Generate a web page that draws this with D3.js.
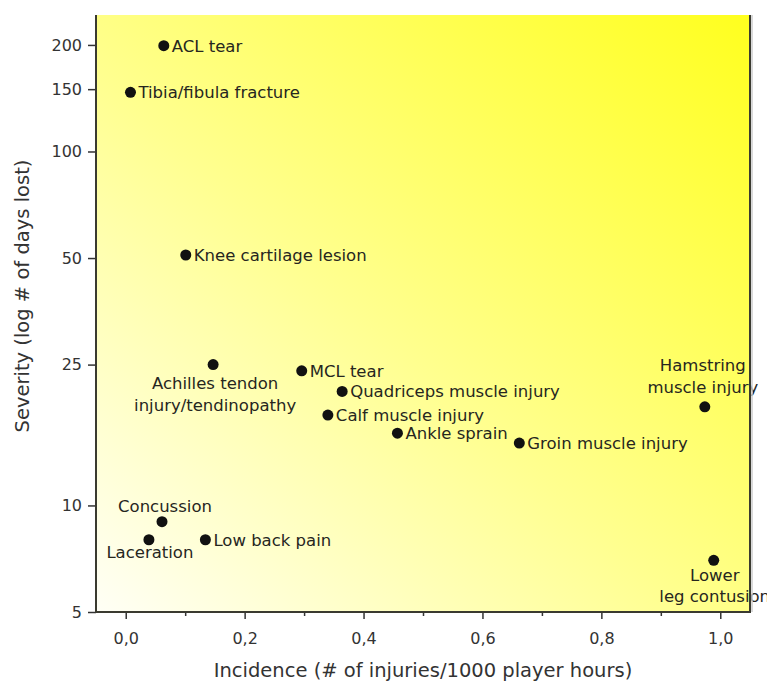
<!DOCTYPE html>
<html>

<head>
    <meta charset="utf-8">
    <title>Injury severity vs incidence</title>
    <style>
        body { margin: 0; background: #fff; }
        text { font-family: "DejaVu Sans", sans-serif; }
    </style>
</head>

<body>
    <svg></svg>
    <script src="https://d3js.org/d3.v7.min.js"></script>

    <script>
        // injuries
        var injuries = ['ACL tear', 'Tibia/fibula fracture', 'Knee cartilage lesion', 'Achilles tendon injury/tendinopathy',
            'MCL tear', 'Quadriceps muscle injury', 'Calf muscle injury', 'Ankle sprain', 'Groin muscle injury',
            'Hamstring muscle injury', 'Concussion', 'Laceration', 'Low back pain', 'Lower leg contusion'];
        var incidence = [0.064, 0.008, 0.101, 0.147, 0.296, 0.364, 0.340, 0.457, 0.662, 0.974, 0.061, 0.039, 0.134, 0.989];
        var severity = [199, 147, 51, 25, 24, 21, 18, 16, 15, 19, 9, 8, 8, 7];

        var xTicks = [0, 0.2, 0.4, 0.6, 0.8, 1.0],
            xMinor = [0.1, 0.3, 0.5, 0.7, 0.9],
            yTicks = [5, 10, 25, 50, 100, 150, 200];

        // label placement (pixels from the dot); default is to the right
        var labelPos = {
            'Achilles tendon injury/tendinopathy': { lines: ['Achilles tendon', 'injury/tendinopathy'], dx: 2, dy: [24, 46], anchor: 'middle' },
            'Hamstring muscle injury': { lines: ['Hamstring', 'muscle injury'], dx: -2, dy: [-36, -14], anchor: 'middle' },
            'Lower leg contusion': { lines: ['Lower', 'leg contusion'], dx: 1, dy: [21, 42], anchor: 'middle' },
            'Concussion': { lines: ['Concussion'], dx: 3, dy: [-10], anchor: 'middle' },
            'Laceration': { lines: ['Laceration'], dx: 1, dy: [18], anchor: 'middle' }
        };

        var W = 767, H = 689,
            mLeft = 96, mTop = 15, mRight = 750, mBottom = 612;

        var xScale = d3.scaleLinear().domain([-0.05, 1.05]).range([mLeft, mRight]),
            yScale = d3.scaleLog().domain([5, 243]).range([mBottom, mTop]);

        var svg = d3.select('svg').attr('width', W).attr('height', H);

        var grad = svg.append('defs').append('linearGradient')
            .attr('id', 'bg').attr('x1', 0).attr('y1', 1).attr('x2', 1).attr('y2', 0);
        grad.append('stop').attr('offset', 0).attr('stop-color', '#fffff6');
        grad.append('stop').attr('offset', 0.45).attr('stop-color', '#ffff90');
        grad.append('stop').attr('offset', 1).attr('stop-color', '#ffff1e');

        svg.append('rect').attr('x', mLeft).attr('y', mTop)
            .attr('width', mRight - mLeft).attr('height', mBottom - mTop)
            .attr('fill', 'url(#bg)');

        // points and labels
        var pts = injuries.map((name, i) => ({ name: name, x: incidence[i], y: severity[i] }));
        var g = svg.append('g');
        g.selectAll('circle').data(pts).enter().append('circle')
            .attr('cx', d => xScale(d.x)).attr('cy', d => yScale(d.y))
            .attr('r', 5.5).attr('fill', '#111');

        pts.forEach(d => {
            var p = labelPos[d.name] || { lines: [d.name], dx: 8, dy: [6], anchor: 'start' };
            p.lines.forEach((line, j) => {
                g.append('text')
                    .attr('x', xScale(d.x) + p.dx)
                    .attr('y', yScale(d.y) + p.dy[j])
                    .attr('text-anchor', p.anchor)
                    .attr('font-size', 16.5)
                    .attr('fill', '#26261e')
                    .text(line);
            });
        });

        // axes
        var fmt = d3.format('.1f');
        svg.append('g').attr('transform', `translate(0,${mBottom})`)
            .call(d3.axisBottom(xScale).tickValues(xTicks).tickSize(7).tickPadding(14)
                .tickFormat(d => fmt(d).replace('.', ',')));
        svg.append('g').attr('transform', `translate(0,${mBottom})`)
            .call(d3.axisBottom(xScale).tickValues(xMinor).tickSize(4).tickFormat(''));

        svg.append('g').attr('transform', `translate(${mLeft},0)`)
            .call(d3.axisLeft(yScale).tickValues(yTicks).tickSize(8).tickPadding(6).tickFormat(d3.format('d')));

        svg.selectAll('.domain').remove();
        svg.selectAll('.tick line').attr('stroke', '#333').attr('stroke-width', 1.5);
        svg.selectAll('.tick text').attr('font-size', 16).attr('fill', '#333')
            .style('font-family', '"DejaVu Sans", sans-serif');

        // frame: left, bottom, right (no top)
        svg.append('path')
            .attr('d', `M${mLeft},${mTop}V${mBottom}H${mRight}V${mTop}`)
            .attr('fill', 'none').attr('stroke', '#3a3a30').attr('stroke-width', 2);
        svg.append('line').attr('x1', mRight + 2).attr('x2', mRight + 2).attr('y1', mTop).attr('y2', mBottom)
            .attr('stroke', '#ccc').attr('stroke-width', 1.5);

        svg.append('text')
            .attr('x', 423).attr('y', 677)
            .attr('text-anchor', 'middle').attr('font-size', 19.5).attr('fill', '#333')
            .text('Incidence (# of injuries/1000 player hours)');
        svg.append('text')
            .attr('transform', `translate(29,296) rotate(-90)`)
            .attr('text-anchor', 'middle').attr('font-size', 19.5).attr('fill', '#333')
            .text('Severity (log # of days lost)');
    </script>
</body>

</html>
